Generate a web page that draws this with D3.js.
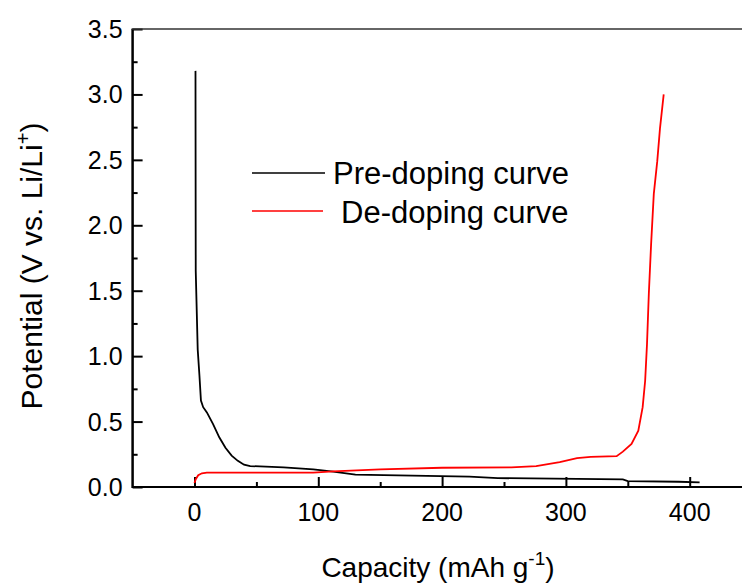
<!DOCTYPE html>
<html>
<head>
<meta charset="utf-8">
<script src="https://cdn.jsdelivr.net/npm/d3@7"></script>
<style>
  html, body { margin: 0; padding: 0; background: #fff; }
  svg { display: block; font-family: "Liberation Sans", Arial, sans-serif; }
</style>
</head>
<body>
<svg id="chart" width="742" height="587"></svg>
<script>
// ---- data ----
const preCapacity = [0.8, 1.0, 2.6, 4.0, 5.2, 7, 10, 15, 20, 25, 30, 35, 40, 45, 72, 96, 112, 130, 222, 245, 346, 350, 391, 408];
const prePotential = [3.18, 1.65, 1.05, 0.85, 0.66, 0.61, 0.57, 0.48, 0.38, 0.30, 0.24, 0.20, 0.17, 0.16, 0.15, 0.135, 0.118, 0.095, 0.08, 0.068, 0.058, 0.045, 0.04, 0.035];
const deCapacity = [0, 1, 3, 6, 10, 96, 112, 150, 200, 256, 276, 295, 309, 320, 341, 346, 353, 358.5, 362, 364, 365.5, 367, 368.8, 371, 373.8, 376, 379];
const dePotential = [0.03, 0.06, 0.09, 0.105, 0.11, 0.11, 0.12, 0.135, 0.147, 0.15, 0.16, 0.19, 0.22, 0.23, 0.236, 0.27, 0.33, 0.43, 0.61, 0.81, 1.09, 1.48, 1.85, 2.24, 2.49, 2.74, 3.0];
const xMajorTicks = [0, 100, 200, 300, 400, 500];
const xMinorTicks = [50, 150, 250, 350, 450];
const yMajorTicks = [0.0, 0.5, 1.0, 1.5, 2.0, 2.5, 3.0, 3.5];
const yMinorTicks = [0.25, 0.75, 1.25, 1.75, 2.25, 2.75, 3.25];
const seriesNames = ["Pre-doping curve", "De-doping curve"];
const seriesColors = ["#000000", "#ff0000"];

// ---- layout ----
const svg = d3.select("#chart");
const x = d3.scaleLinear().domain([-50, 450]).range([132.6, 751.6]);
const y = d3.scaleLinear().domain([0, 3.5]).range([487, 29]);

const fmtY = d3.format(".1f");

// x axis (ticks inward)
const gx = svg.append("g").attr("transform", `translate(0,${y(0)})`);
gx.call(d3.axisTop(x).tickValues(xMajorTicks).tickSize(10).tickFormat(""))
  .call(g => g.select(".domain").remove());
gx.append("g").call(d3.axisTop(x).tickValues(xMinorTicks).tickSize(5).tickFormat(""))
  .call(g => g.select(".domain").remove());
gx.selectAll("line").attr("stroke", "#000").attr("stroke-width", 2);
gx.selectAll(".xlab").data(xMajorTicks.filter(d => d <= 400)).enter().append("text")
  .attr("x", d => x(d)).attr("y", 34)
  .attr("text-anchor", "middle").attr("font-size", 25).attr("fill", "#000")
  .text(d => d);

// y axis (ticks inward)
const gy = svg.append("g").attr("transform", `translate(${x(-50)},0)`);
gy.call(d3.axisRight(y).tickValues(yMajorTicks).tickSize(10).tickFormat(""))
  .call(g => g.select(".domain").remove());
gy.append("g").call(d3.axisRight(y).tickValues(yMinorTicks).tickSize(5).tickFormat(""))
  .call(g => g.select(".domain").remove());
gy.selectAll("line").attr("stroke", "#000").attr("stroke-width", 2);
gy.selectAll(".ylab").data(yMajorTicks).enter().append("text")
  .attr("x", -10).attr("y", d => y(d)).attr("dy", "0.36em")
  .attr("text-anchor", "end").attr("font-size", 25).attr("fill", "#000")
  .text(d => fmtY(d));

// frame lines
svg.append("line").attr("x1", x(-50)).attr("x2", 742).attr("y1", y(0)).attr("y2", y(0))
  .attr("stroke", "#000").attr("stroke-width", 2);
svg.append("line").attr("x1", x(-50)).attr("x2", x(-50)).attr("y1", y(3.5)).attr("y2", y(0) + 1)
  .attr("stroke", "#000").attr("stroke-width", 2.5);
svg.append("line").attr("x1", x(-50) - 1).attr("x2", 742).attr("y1", y(3.5)).attr("y2", y(3.5))
  .attr("stroke", "#333").attr("stroke-width", 1.5);

// curves
const line = d3.line().x(d => x(d[0])).y(d => y(d[1]));
const preData = d3.zip(preCapacity, prePotential);
const deData = d3.zip(deCapacity, dePotential);
svg.append("path").datum(preData).attr("d", line)
  .attr("fill", "none").attr("stroke", seriesColors[0]).attr("stroke-width", 1.8);
svg.append("path").datum(deData).attr("d", line)
  .attr("fill", "none").attr("stroke", seriesColors[1]).attr("stroke-width", 1.8);

// legend
const legend = svg.append("g");
legend.append("line").attr("x1", 252).attr("x2", 325).attr("y1", 173).attr("y2", 173)
  .attr("stroke", seriesColors[0]).attr("stroke-width", 1.5);
legend.append("line").attr("x1", 252).attr("x2", 323).attr("y1", 211).attr("y2", 211)
  .attr("stroke", seriesColors[1]).attr("stroke-width", 1.5);
legend.append("text").attr("x", 333).attr("y", 184).attr("font-size", 31).attr("fill", "#000")
  .text(seriesNames[0]);
legend.append("text").attr("x", 341).attr("y", 223).attr("font-size", 31).attr("fill", "#000")
  .text(seriesNames[1]);

// axis titles
const xt = svg.append("text").attr("x", 438).attr("y", 577).attr("text-anchor", "middle")
  .attr("font-size", 28).attr("fill", "#000");
xt.append("tspan").text("Capacity (mAh g");
xt.append("tspan").attr("font-size", 19).attr("dy", -12).text("-1");
xt.append("tspan").attr("dy", 12).text(")");

const yt = svg.append("text").attr("transform", "translate(42,266) rotate(-90)")
  .attr("text-anchor", "middle").attr("font-size", 30).attr("fill", "#000");
yt.append("tspan").text("Potential (V vs. Li/Li");
yt.append("tspan").attr("font-size", 20).attr("dy", -12).text("+");
yt.append("tspan").attr("dy", 12).text(")");
</script>
</body>
</html>
